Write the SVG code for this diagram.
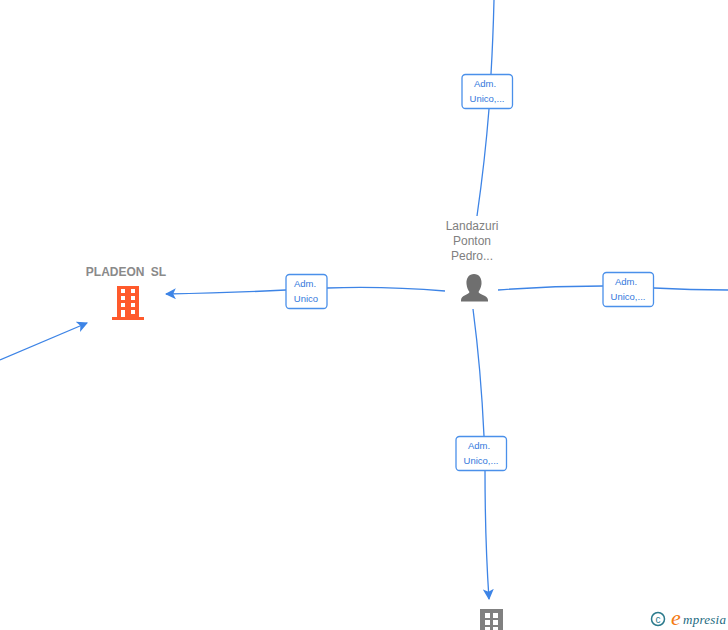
<svg xmlns="http://www.w3.org/2000/svg" width="728" height="630" viewBox="0 0 728 630">
<style>
.c{fill:none;stroke:#3d84e6;stroke-width:1.3}
.b{fill:#fff;stroke:#4a90ea;stroke-width:1.3}
.l{font:9.5px "Liberation Sans",Arial,sans-serif;fill:#3378dc;text-anchor:middle}
.n{font:12px "Liberation Sans",Arial,sans-serif;fill:#808080;text-anchor:middle}
</style>
<defs>
<marker id="a" viewBox="0 0 10 10" refX="9" refY="5" markerWidth="11" markerHeight="11" markerUnits="userSpaceOnUse" orient="auto"><path d="M0 0L10 5L0 10L2.500 5Z" fill="#3d84e6"/></marker>
</defs>
<rect width="728" height="630" fill="#fff"/>
<g id="connectors">
<path class="c" d="M494 0Q493 40 491 74M489 109Q485 160 477 216"/>
<path class="c" d="M445 291Q385 286 327 288M286 290Q230 293 166 294" marker-end="url(#a)"/>
<path class="c" d="M498 290Q550 286 603 286M654 288Q690 290 728 290"/>
<path class="c" d="M473 309Q481 370 484 436M485 470Q485 540 489 599" marker-end="url(#a)"/>
<path class="c" d="M0 360L87 323" marker-end="url(#a)"/>
</g>
<g id="edge-top"><rect class="b" x="462" y="74.500" width="50.500" height="34" rx="3.500"/><text class="l" x="485" y="87">Adm.</text><text class="l" x="487" y="102">Unico,...</text></g>
<g id="edge-left"><rect class="b" x="286" y="274.500" width="41" height="34" rx="3.500"/><text class="l" x="305" y="287">Adm.</text><text class="l" x="306" y="302">Unico</text></g>
<g id="edge-right"><rect class="b" x="603" y="272.500" width="50.500" height="34" rx="3.500"/><text class="l" x="626" y="285">Adm.</text><text class="l" x="628" y="300">Unico,...</text></g>
<g id="edge-bottom"><rect class="b" x="456" y="436.500" width="50.500" height="34" rx="3.500"/><text class="l" x="479" y="449">Adm.</text><text class="l" x="481" y="464">Unico,...</text></g>
<g id="node-pladeon">
<text x="126" y="276" style="font:bold 12px 'Liberation Sans',Arial,sans-serif;fill:#8a8a8a;text-anchor:middle;word-spacing:3px">PLADEON SL</text>
<path fill="#ff5a2c" fill-rule="evenodd" d="M117 286H139V317H144V320H112V317H117ZM121 289V293H125V289ZM131 289V293H135V289ZM121 296V300H125V296ZM131 296V300H135V296ZM121 303V307H125V303ZM131 303V307H135V303ZM121 310V317H125V310ZM131 310V314H135V310Z"/>
</g>
<g id="node-landazuri">
<text class="n" x="472" y="230">Landazuri</text><text class="n" x="472" y="245">Ponton</text><text class="n" x="472" y="260">Pedro...</text>
<path fill="#6f6f6f" d="M474 274C479 274 482 278 481.500 284C481 288 479.500 290 478.500 292C479.500 295 487.500 295 488 300V301.500H461V300C461.500 295 468.500 295 469.500 292C468 290 467 288 466.500 284C466 278 469 274 474 274Z"/>
</g>
<g id="node-bottom">
<path fill="#808080" fill-rule="evenodd" d="M480 609H503V630H480ZM485 613V618H490V613ZM493 613V618H498V613ZM485 620V625H490V620ZM493 620V625H498V620ZM485 627V630H490V627ZM493 627V630H498V627Z"/>
</g>
<g id="logo">
<circle cx="658" cy="619" r="6.500" fill="none" stroke="#2b7a8c" stroke-width="1.500"/>
<text x="658" y="622.500" style="font:10px 'Liberation Sans',Arial,sans-serif;fill:#2b7a8c;text-anchor:middle">c</text>
<text x="671" y="625" style="font:italic 22px 'Liberation Serif',serif;fill:#f47a12">e</text>
<text x="683" y="624" textLength="43" style="font:italic 13px 'Liberation Serif',serif;fill:#1d6a80">mpresia</text>
</g>
</svg>
